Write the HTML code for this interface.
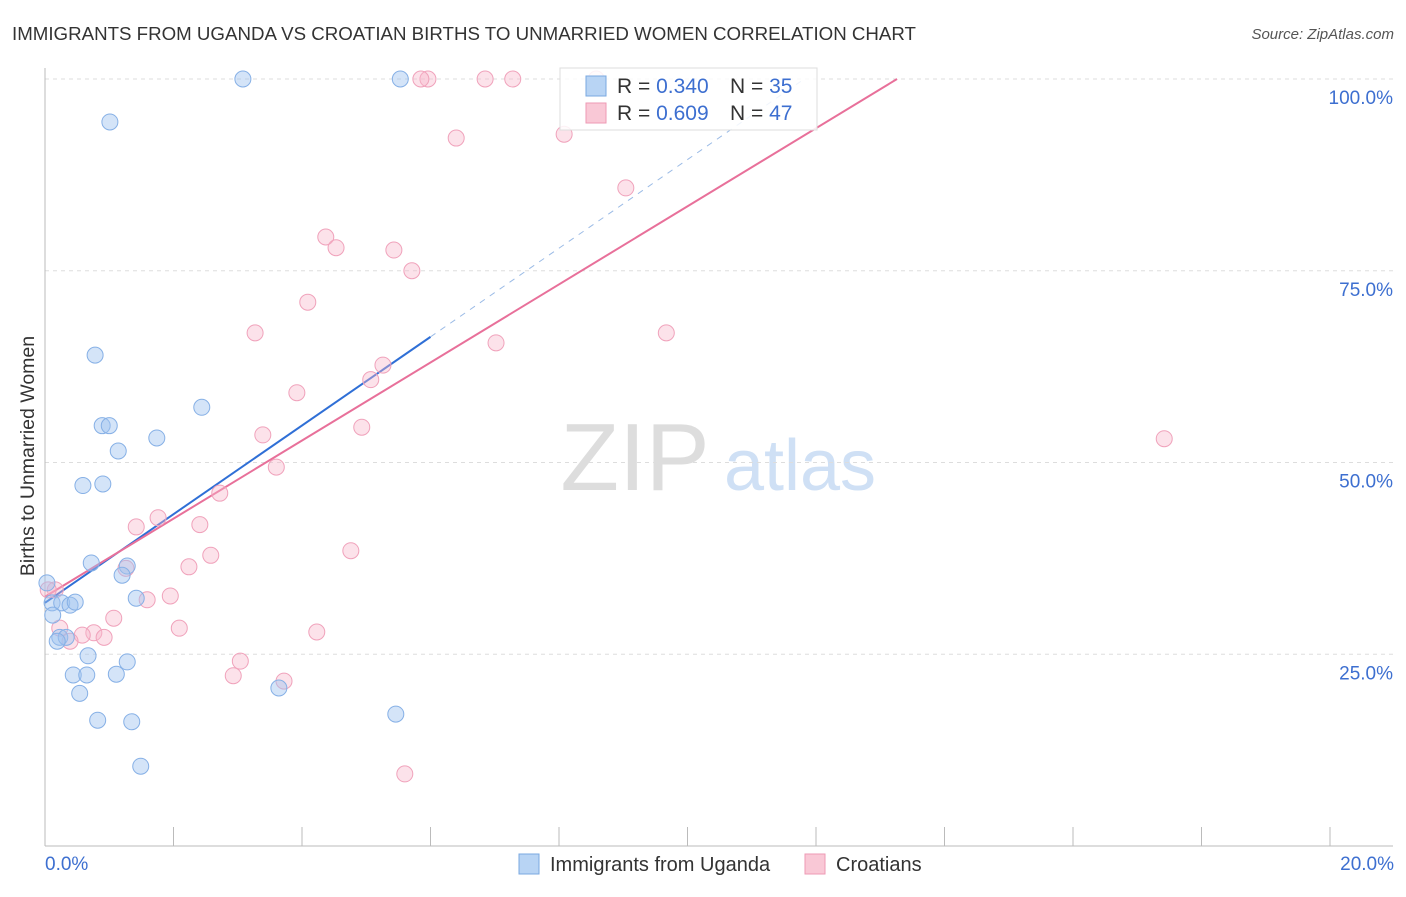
<!DOCTYPE html>
<html><head><meta charset="utf-8">
<style>
body{margin:0;background:#fff;font-family:"Liberation Sans",sans-serif;}
svg text{font-family:"Liberation Sans",sans-serif;}
</style></head>
<body>
<svg id="chart" width="1406" height="892" xmlns="http://www.w3.org/2000/svg">
<text x="12" y="40" font-size="18" fill="#333" textLength="904" lengthAdjust="spacingAndGlyphs">IMMIGRANTS FROM UGANDA VS CROATIAN BIRTHS TO UNMARRIED WOMEN CORRELATION CHART</text>
<text x="1394" y="39" font-size="15" fill="#555" font-style="italic" text-anchor="end">Source: ZipAtlas.com</text>
<text x="0" y="0" transform="translate(34,456) rotate(-90)" font-size="19.5" fill="#333" text-anchor="middle">Births to Unmarried Women</text>
<g>
<text x="635" y="490" font-size="96" fill="#ddd" text-anchor="middle" font-family="Liberation Serif">ZIP</text>
<text x="800" y="490" font-size="72" fill="#cfe0f5" text-anchor="middle">atlas</text>
</g>
<g id="grid"></g><g id="axes"></g><g id="lines"></g><g id="pts"></g>
<g>
<rect x="560" y="68" width="257" height="62" fill="#fff" fill-opacity="0.85" stroke="#ddd"/>
<rect x="586" y="76" width="20" height="20" fill="#b8d4f4" stroke="#7aa8e0"/>
<text x="617" y="93" font-size="21" fill="#333">R = <tspan fill="#3d6fd0">0.340</tspan></text>
<text x="730" y="93" font-size="21" fill="#333">N = <tspan fill="#3d6fd0">35</tspan></text>
<rect x="586" y="103" width="20" height="20" fill="#f9c8d6" stroke="#ee9ab4"/>
<text x="617" y="120" font-size="21" fill="#333">R = <tspan fill="#3d6fd0">0.609</tspan></text>
<text x="730" y="120" font-size="21" fill="#333">N = <tspan fill="#3d6fd0">47</tspan></text>
</g>
<g>
<rect x="519" y="854" width="20" height="20" fill="#b8d4f4" stroke="#7aa8e0"/>
<text x="550" y="871" font-size="20" fill="#333">Immigrants from Uganda</text>
<rect x="805" y="854" width="20" height="20" fill="#f9c8d6" stroke="#ee9ab4"/>
<text x="836" y="871" font-size="20" fill="#333">Croatians</text>
</g>
</svg>
<script>
const yTicks=[25,50,75,100];
const yTickLabels=["25.0%","50.0%","75.0%","100.0%"];
const xTickCount=10;
const ugandaX=[3.08,5.53,1.01,0.78,2.44,0.89,1.00,1.74,1.14,0.59,0.90,0.72,1.28,1.20,1.42,0.03,0.11,0.26,0.39,0.47,0.12,0.23,0.33,0.19,0.67,1.28,0.44,0.65,1.11,0.54,3.64,5.46,0.82,1.35,1.49];
const ugandaY=[100,100,94.4,64.0,57.2,54.8,54.8,53.2,51.5,47.0,47.2,36.9,36.5,35.3,32.3,34.3,31.7,31.7,31.4,31.8,30.1,27.2,27.2,26.7,24.8,24.0,22.3,22.3,22.4,19.9,20.6,17.2,16.4,16.2,10.4];
const croatX=[5.96,5.85,6.85,7.28,8.58,6.40,8.08,9.04,4.37,4.53,5.43,5.71,4.09,3.27,9.67,7.02,5.26,5.07,3.92,4.93,3.39,3.60,2.72,17.42,1.42,1.76,2.41,2.58,2.24,1.26,1.95,1.59,1.07,0.23,2.09,0.76,0.58,0.92,0.39,4.23,4.76,3.04,2.93,3.72,5.60,0.16,0.05];
const croatY=[100,100,100,100,100,92.3,92.8,85.8,79.4,78.0,77.7,75.0,70.9,66.9,66.9,65.6,62.7,60.8,59.1,54.6,53.6,49.4,46.0,53.1,41.6,42.8,41.9,37.9,36.4,36.2,32.6,32.1,29.7,28.4,28.4,27.8,27.5,27.2,26.7,27.9,38.5,24.1,22.2,21.5,9.4,33.4,33.4];
const ugandaTrend=[31.7,5.78];
const croatTrend=[32.5,5.09];
const NS="http://www.w3.org/2000/svg";
const sx=v=>45+v*64.25;
const sy=v=>79+(100-v)*7.67;
function mk(tag,attrs,parent){const e=document.createElementNS(NS,tag);for(const k in attrs)e.setAttribute(k,attrs[k]);document.getElementById(parent).appendChild(e);return e;}
let e;
yTicks.forEach((t,i)=>{
 e=mk('line',{x1:45,x2:1393,y1:sy(t),y2:sy(t),stroke:'#ddd','stroke-dasharray':'4,4'},'grid');
 
 
 e=mk('text',{x:1393,y:sy(t)+25,'font-size':19,fill:'#3d6fd0','text-anchor':'end'},'axes');
 e.textContent=yTickLabels[i];
 
 
});
e=mk('line',{x1:45,x2:45,y1:68,y2:846,stroke:'#bbb'},'axes');


e=mk('line',{x1:45,x2:1393,y1:846,y2:846,stroke:'#bbb'},'axes');


for(let i=0;i<=xTickCount;i++){
 e=mk('line',{x1:sx(i*2),x2:sx(i*2),y1:827,y2:846,stroke:'#bbb'},'axes');
 
 
}
e=mk('text',{x:45,y:870,'font-size':19,fill:'#3d6fd0'},'axes');e.textContent='0.0%';


e=mk('text',{x:1394,y:870,'font-size':19,fill:'#3d6fd0','text-anchor':'end'},'axes');e.textContent='20.0%';


const bEnd=6.0, bMax=(100-ugandaTrend[0])/ugandaTrend[1];
e=mk('line',{x1:sx(0),y1:sy(ugandaTrend[0]),x2:sx(bEnd),y2:sy(ugandaTrend[0]+ugandaTrend[1]*bEnd),stroke:'#2f6fd6','stroke-width':2},'lines');


e=mk('line',{x1:sx(bEnd),y1:sy(ugandaTrend[0]+ugandaTrend[1]*bEnd),x2:sx(bMax),y2:sy(100),stroke:'#9bbbe6','stroke-width':1,'stroke-dasharray':'6,6'},'lines');


const pMax=(100-croatTrend[0])/croatTrend[1];
e=mk('line',{x1:sx(0),y1:sy(croatTrend[0]),x2:sx(pMax),y2:sy(100),stroke:'#e8709a','stroke-width':2},'lines');


croatX.forEach((x,i)=>{
 e=mk('circle',{cx:sx(x),cy:sy(croatY[i]),r:8,fill:'rgba(248,182,202,0.4)',stroke:'#f0a2bb','stroke-width':1},'pts');
 
 
});
ugandaX.forEach((x,i)=>{
 e=mk('circle',{cx:sx(x),cy:sy(ugandaY[i]),r:8,fill:'rgba(160,196,240,0.45)',stroke:'#86b0e6','stroke-width':1},'pts');
 
 
});
</script>
</body></html>
